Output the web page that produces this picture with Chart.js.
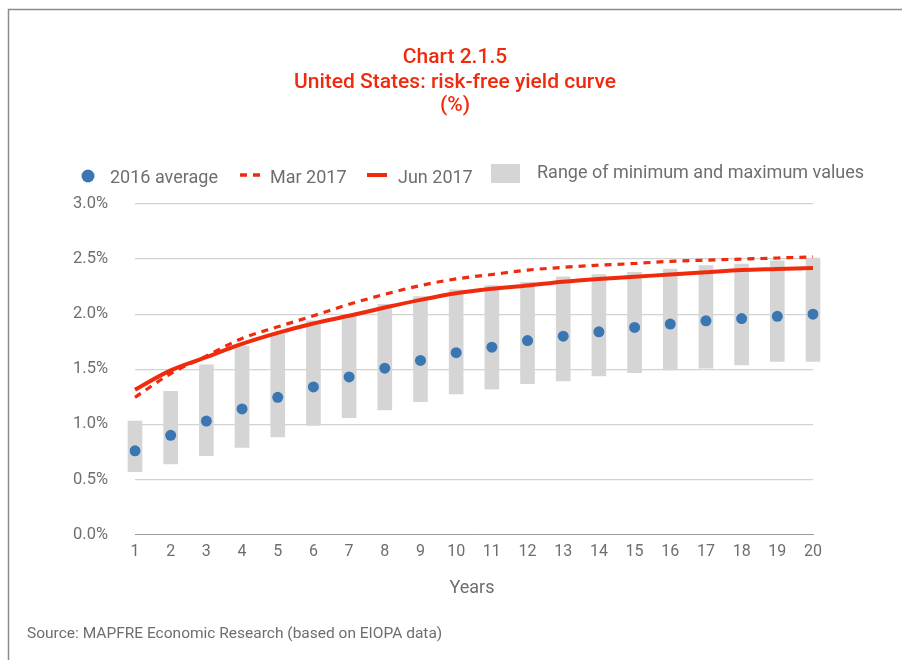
<!DOCTYPE html>
<html>
<head>
<meta charset="utf-8">
<style>
  html, body { margin: 0; padding: 0; background: #ffffff; }
  #wrap { position: relative; width: 902px; height: 660px; }
  canvas { display: block; }
</style>
<script src="https://cdn.jsdelivr.net/npm/chart.js@4/dist/chart.umd.min.js"></script>
</head>
<body>
<div id="wrap"><canvas id="chart" width="902" height="660"></canvas></div>
<script>
// Maturities in years
const years = ['1','2','3','4','5','6','7','8','9','10','11','12','13','14','15','16','17','18','19','20'];

// Risk-free rates, %
const avg2016 = [0.76, 0.90, 1.03, 1.14, 1.245, 1.34, 1.43, 1.51, 1.58, 1.65, 1.70, 1.76, 1.80, 1.84, 1.88, 1.91, 1.94, 1.96, 1.98, 2.00];
const mar2017 = [1.245, 1.46, 1.62, 1.78, 1.885, 1.985, 2.09, 2.18, 2.26, 2.32, 2.36, 2.40, 2.425, 2.445, 2.46, 2.48, 2.49, 2.50, 2.51, 2.52];
const jun2017 = [1.315, 1.49, 1.61, 1.73, 1.83, 1.915, 1.985, 2.06, 2.13, 2.19, 2.23, 2.26, 2.295, 2.32, 2.34, 2.36, 2.38, 2.40, 2.41, 2.42];
const rangeMin = [0.57, 0.64, 0.715, 0.79, 0.885, 0.99, 1.06, 1.13, 1.205, 1.275, 1.32, 1.37, 1.395, 1.44, 1.47, 1.495, 1.51, 1.54, 1.57, 1.57];
const rangeMax = [1.03, 1.30, 1.54, 1.71, 1.82, 1.94, 1.99, 2.09, 2.16, 2.22, 2.26, 2.29, 2.34, 2.36, 2.38, 2.41, 2.44, 2.455, 2.485, 2.51];

// Text
const titleLines = ['Chart 2.1.5', 'United States: risk-free yield curve', '(%)'];
const legendLabels = ['2016 average', 'Mar 2017', 'Jun 2017', 'Range of minimum and maximum values'];
const xAxisTitle = 'Years';
const sourceNote = 'Source: MAPFRE Economic Research (based on EIOPA data)';

const RED = '#f02a0c';
const BLUE = '#3a76b1';
const GREY_BAR = '#d5d5d5';
const TEXT = '#6e6e6e';
const FONT = 'Roboto, "Liberation Sans", sans-serif';

const rangeData = rangeMin.map((lo, i) => [lo, rangeMax[i]]);

// Title, legend, axis title, source note and frame
const decorations = {
  id: 'decorations',
  afterDraw(chart) {
    const ctx = chart.ctx;
    const area = chart.chartArea;
    ctx.save();

    // frame
    ctx.strokeStyle = '#8c8c8c';
    ctx.lineWidth = 1.5;
    ctx.beginPath();
    ctx.moveTo(8.5, 660);
    ctx.lineTo(8.5, 9.5);
    ctx.lineTo(902, 9.5);
    ctx.stroke();

    // title
    ctx.fillStyle = RED;
    ctx.textAlign = 'center';
    ctx.textBaseline = 'middle';
    ctx.font = '500 21px ' + FONT;
    const ty = [58, 83, 106];
    titleLines.forEach((t, i) => ctx.fillText(t, 455, ty[i]));

    // legend
    ctx.font = '18px ' + FONT;
    ctx.textAlign = 'left';
    ctx.fillStyle = BLUE;
    ctx.beginPath();
    ctx.arc(88, 176, 6.5, 0, Math.PI * 2);
    ctx.fill();
    ctx.fillStyle = TEXT;
    ctx.fillText(legendLabels[0], 110, 178);

    ctx.strokeStyle = RED;
    ctx.lineWidth = 3.5;
    ctx.setLineDash([7, 6]);
    ctx.beginPath();
    ctx.moveTo(240, 175);
    ctx.lineTo(263, 175);
    ctx.stroke();
    ctx.setLineDash([]);
    ctx.fillText(legendLabels[1], 270, 178);

    ctx.lineWidth = 4;
    ctx.beginPath();
    ctx.moveTo(367, 175);
    ctx.lineTo(387, 175);
    ctx.stroke();
    ctx.fillText(legendLabels[2], 398, 178);

    ctx.fillStyle = GREY_BAR;
    ctx.fillRect(491, 164, 29, 19);
    ctx.fillStyle = TEXT;
    ctx.fillText(legendLabels[3], 537, 173);

    // axis title
    ctx.textAlign = 'center';
    ctx.font = '18px ' + FONT;
    ctx.fillText(xAxisTitle, (area.left + area.right) / 2 - 2, 588);

    // source
    ctx.textAlign = 'left';
    ctx.font = '15.5px ' + FONT;
    ctx.fillText(sourceNote, 27, 634);

    ctx.restore();
  }
};

new Chart(document.getElementById('chart'), {
  type: 'bar',
  data: {
    labels: years,
    datasets: [
      {
        type: 'line',
        label: legendLabels[2],
        data: jun2017,
        borderColor: RED,
        borderWidth: 4,
        pointRadius: 0,
        cubicInterpolationMode: 'monotone',
        fill: false,
        order: 1
      },
      {
        type: 'line',
        label: legendLabels[1],
        data: mar2017,
        borderColor: RED,
        borderWidth: 3.2,
        borderDash: [7, 6],
        pointRadius: 0,
        cubicInterpolationMode: 'monotone',
        fill: false,
        order: 2
      },
      {
        type: 'line',
        label: legendLabels[0],
        data: avg2016,
        showLine: false,
        pointRadius: 5.5,
        pointBackgroundColor: BLUE,
        pointBorderColor: BLUE,
        pointBorderWidth: 0,
        order: 3
      },
      {
        type: 'bar',
        label: legendLabels[3],
        data: rangeData,
        backgroundColor: GREY_BAR,
        borderWidth: 0,
        barThickness: 14,
        clip: false,
        order: 4
      }
    ]
  },
  options: {
    responsive: false,
    animation: false,
    layout: { padding: { top: 204, right: 89, bottom: 55.5, left: 0 } },
    plugins: {
      legend: { display: false },
      title: { display: false },
      tooltip: { enabled: false }
    },
    scales: {
      x: {
        offset: false,
        grid: { display: false, drawTicks: false },
        border: { display: true, color: '#9a9a9a', width: 1, dash: [2, 1] },
        ticks: {
          color: TEXT,
          font: { family: FONT, size: 16 },
          padding: 8,
          maxRotation: 0,
          autoSkip: false
        },
        afterFit(scale) { scale.height = 70; }
      },
      y: {
        min: 0,
        max: 3,
        ticks: {
          stepSize: 0.5,
          color: TEXT,
          font: { family: FONT, size: 16.5 },
          padding: 27,
          callback: v => v.toFixed(1) + '%'
        },
        grid: {
          drawTicks: false,
          lineWidth: 1.3,
          color: ctx => (ctx.tick && ctx.tick.value === 0) ? 'rgba(0,0,0,0)' : '#d2d2d2'
        },
        border: { display: false },
        afterFit(scale) { scale.width = 135; }
      }
    }
  },
  plugins: [decorations]
});
</script>
</body>
</html>
